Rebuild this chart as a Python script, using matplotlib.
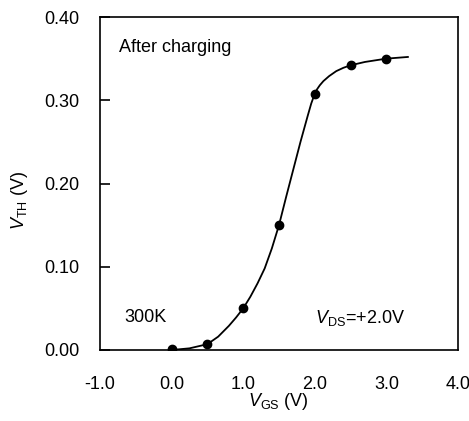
import matplotlib
matplotlib.use("Agg")
import matplotlib.pyplot as plt

plt.rcParams['font.family'] = ['Liberation Sans', 'DejaVu Sans']
plt.rcParams['mathtext.fontset'] = 'custom'
plt.rcParams['mathtext.rm'] = 'Liberation Sans'
plt.rcParams['mathtext.it'] = 'Liberation Sans:italic'

# measured points
vgs = [0.0, 0.5, 1.0, 1.5, 2.0, 2.5, 3.0]
vth = [0.001, 0.007, 0.050, 0.150, 0.308, 0.342, 0.350]

# fitted curve
curve_x = [0.0, 0.25, 0.5, 0.65, 0.8, 0.9, 1.0, 1.1, 1.2, 1.3, 1.4, 1.5, 1.6, 1.7,
           1.8, 1.9, 1.95, 2.0, 2.03, 2.07, 2.12, 2.2, 2.3, 2.4, 2.5, 2.7, 3.0, 3.3]
curve_y = [0.000, 0.002, 0.007, 0.016, 0.029, 0.039, 0.050, 0.064, 0.080, 0.098, 0.122,
           0.150, 0.184, 0.217, 0.250, 0.281, 0.296, 0.308, 0.313, 0.318, 0.323, 0.329,
           0.335, 0.339, 0.342, 0.346, 0.350, 0.352]

xticks = [-1.0, 0.0, 1.0, 2.0, 3.0, 4.0]
yticks = [0.00, 0.10, 0.20, 0.30, 0.40]

fig = plt.figure(figsize=(4.69, 4.21), dpi=100)
ax = fig.add_axes([100/469, 1-350/421, 358/469, 333/421])

ax.plot(curve_x, curve_y, color='black', lw=1.3, zorder=2)
ax.plot(vgs, vth, 'o', color='black', ms=6, zorder=3)

ax.set_xlim(-1, 4)
ax.set_ylim(0, 0.40)
ax.set_xticks(xticks)
ax.set_xticklabels([f"{t:.1f}" for t in xticks])
ax.set_yticks(yticks)
ax.set_yticklabels([f"{t:.2f}" for t in yticks])
ax.tick_params(axis='x', length=0, pad=19, labelsize=13)
ax.tick_params(axis='y', direction='in', length=7, width=1.2, pad=15, labelsize=13)
for s in ax.spines.values():
    s.set_linewidth(1.2)

fig.text(278/469, 1-401/421, r'$V_{\mathrm{GS}}$ (V)', fontsize=13, ha='center', va='center')
fig.text(19/469, 1-200/421, r'$V_{\mathrm{TH}}$ (V)', fontsize=13, ha='center', va='center',
         rotation=90)

ax.text(19/358, 1-30/333, 'After charging', transform=ax.transAxes, fontsize=13,
        ha='left', va='center')
ax.text(24/358, 32/333, '300K', transform=ax.transAxes, fontsize=13,
        ha='left', va='center')
ax.text(215/358, 32/333, r'$V_{\mathrm{DS}}$=+2.0V', transform=ax.transAxes, fontsize=13,
        ha='left', va='center')

fig.savefig('out.png', dpi=100)
